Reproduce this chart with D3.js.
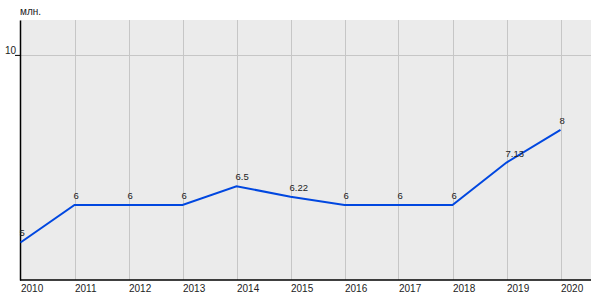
<!DOCTYPE html>
<html>
<head>
<meta charset="utf-8">
<script src="https://cdn.jsdelivr.net/npm/d3@7"></script>
<style>
  body { margin: 0; background: #fff; }
  svg { display: block; font-family: Arial, "Liberation Sans", sans-serif; }
</style>
</head>
<body>
<svg width="600" height="300"></svg>
<script>
// Данные графика
const years = [2010, 2011, 2012, 2013, 2014, 2015, 2016, 2017, 2018, 2019, 2020];
const values = [5, 6, 6, 6, 6.5, 6.22, 6, 6, 6, 7.13, 8];
const yTicks = [10];
const unitLabel = "млн.";

const svg = d3.select("svg");
const margin = { left: 20, right: 9, top: 20, bottom: 20 };
const width = 600, height = 300;
const innerW = width - margin.left - margin.right;
const innerH = height - margin.top - margin.bottom;

const g = svg.append("g").attr("transform", `translate(${margin.left},${margin.top})`);

// x: 2010..2020, шаг 54px, область чуть шире справа
const x = d3.scaleLinear().domain([2010, 2020]).range([0.5, 540.5]);
const y = d3.scaleLinear().domain([4, 10.93]).range([innerH, 0]);

// фон
g.append("rect").attr("width", innerW).attr("height", innerH).attr("fill", "#ebebeb");

// сетка
g.selectAll(".vgrid").data(years.slice(1)).enter().append("line")
  .attr("x1", d => Math.round(x(d)) + 0.5).attr("x2", d => Math.round(x(d)) + 0.5)
  .attr("y1", 0).attr("y2", innerH)
  .attr("stroke", "#c6c6c6").attr("stroke-width", 1);

g.selectAll(".hgrid").data(yTicks).enter().append("line")
  .attr("x1", 0).attr("x2", innerW)
  .attr("y1", d => Math.round(y(d)) + 0.5).attr("y2", d => Math.round(y(d)) + 0.5)
  .attr("stroke", "#c6c6c6").attr("stroke-width", 1);

// оси
const yAxis = g.append("g")
  .call(d3.axisLeft(y).tickValues(yTicks).tickFormat(d3.format("d")).tickSize(5).tickSizeOuter(0));
yAxis.select(".domain").attr("stroke", "#000").attr("stroke-width", 1.5);
yAxis.selectAll(".tick line").attr("stroke", "#000");
yAxis.selectAll("text").attr("font-size", 10).attr("fill", "#222")
  .attr("text-anchor", "start").attr("x", -15).attr("dy", "-0.1em");

const xAxis = g.append("g").attr("transform", `translate(0,${innerH})`)
  .call(d3.axisBottom(x).tickValues(years).tickFormat(d3.format("d")).tickSize(0).tickSizeOuter(0));
xAxis.select(".domain").attr("d", `M0,0H${innerW}`).attr("stroke", "#000").attr("stroke-width", 1.5);
xAxis.selectAll("text").attr("font-size", 10).attr("fill", "#222")
  .attr("text-anchor", "start").attr("y", 5).attr("dy", "0.71em");

// линия
const line = d3.line()
  .x((d, i) => x(years[i]))
  .y(d => y(d));

g.append("path")
  .datum(values)
  .attr("fill", "none")
  .attr("stroke", "#0047e0")
  .attr("stroke-width", 2)
  .attr("d", line);

// подписи значений
g.selectAll(".vlabel").data(values).enter().append("text")
  .attr("x", (d, i) => x(years[i]) - 1)
  .attr("y", d => y(d) - 6)
  .attr("font-size", 9.5)
  .attr("fill", "#222")
  .text(d => d);

// единица измерения
svg.append("text")
  .attr("x", 20).attr("y", 15)
  .attr("font-size", 10)
  .attr("fill", "#222")
  .text(unitLabel);
</script>
</body>
</html>
